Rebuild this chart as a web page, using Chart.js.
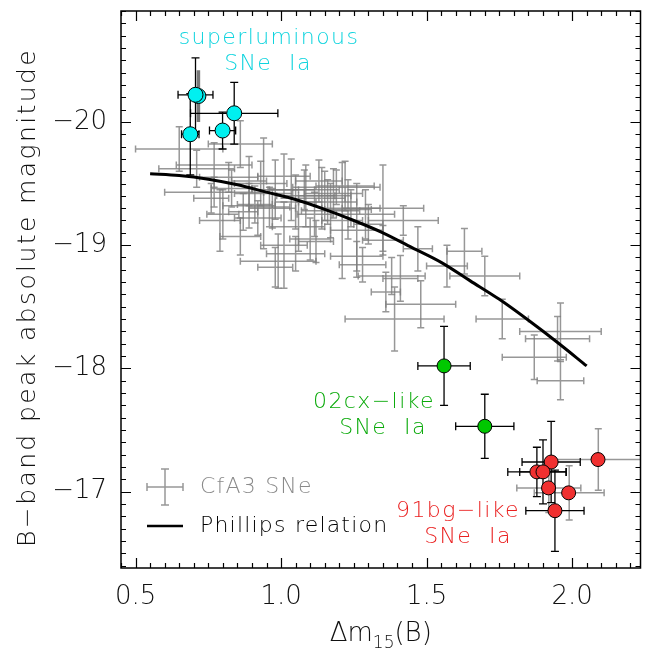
<!DOCTYPE html>
<html>
<head>
<meta charset="utf-8">
<script src="https://cdn.jsdelivr.net/npm/chart.js@4.4.1/dist/chart.umd.min.js"></script>
<style>
  html, body { margin: 0; padding: 0; background: #fff; }
  canvas { display: block; }
</style>
</head>
<body>
<canvas id="c" width="649" height="650"></canvas>
<script>
// axis ticks
const xTicks = [0.5, 1.0, 1.5, 2.0];
const yTicks = [-20, -19, -18, -17];

// CfA3 SNe (grey crosses, no marker)
const cfaX    = [0.65, 0.86, 0.71, 0.77, 0.77, 0.79, 0.83, 0.76, 0.80, 0.92, 0.86, 0.94, 0.89, 0.82, 1.01, 1.01, 1.21, 1.26, 0.99, 1.12, 1.05, 1.10, 0.97, 1.05, 1.08, 1.15, 1.17, 1.13, 1.19, 1.24, 1.35, 1.30, 1.35, 1.26, 1.28, 1.42, 1.22, 0.93, 1.47, 1.63, 1.57, 1.70, 1.38, 1.39, 1.48, 1.36, 1.41, 1.76, 1.96, 1.95, 1.87, 1.96, 2.09, 1.92, 1.99, 0.98, 1.06, 1.16,
                 0.87, 0.89, 0.91, 0.96, 0.98, 1.035, 1.085, 1.115, 1.14, 1.18, 1.23, 1.29];
const cfaY    = [-19.78, -19.82, -19.62, -19.65, -19.43, -19.20, -19.46, -19.38, -19.25, -19.22, -19.07, -19.42, -19.32, -19.55, -19.56, -19.00, -19.20, -19.12, -18.87, -19.03, -18.93, -19.05, -19.30, -19.35, -19.45, -19.40, -19.28, -19.52, -19.47, -19.30, -19.30, -19.17, -19.04, -18.91, -18.84, -19.20, -19.48, -19.50, -18.97, -18.95, -18.83, -18.75, -18.75, -18.40, -18.52, -18.62, -18.73, -18.40, -18.30, -18.24, -18.09, -17.90, -17.26, -17.03, -16.99, -18.82, -19.15, -19.35,
                 -19.27, -19.52, -19.33, -19.31, -19.45, -19.45, -19.40, -19.25, -19.38, -19.42, -19.29, -19.25];
const cfaXErr = [0.15, 0.11, 0.13, 0.13, 0.17, 0.07, 0.07, 0.06, 0.055, 0.08, 0.07, 0.10, 0.09, 0.10, 0.09, 0.08, 0.07, 0.09, 0.13, 0.06, 0.10, 0.07, 0.08, 0.07, 0.12, 0.09, 0.10, 0.08, 0.15, 0.10, 0.14, 0.05, 0.07, 0.09, 0.08, 0.12, 0.10, 0.09, 0.05, 0.06, 0.07, 0.12, 0.115, 0.17, 0.12, 0.05, 0.06, 0.09, 0.14, 0.11, 0.11, 0.08, 0.15, 0.11, 0.12, 0.06, 0.09, 0.10,
                 0.05, 0.06, 0.06, 0.07, 0.08, 0.08, 0.10, 0.06, 0.08, 0.10, 0.08, 0.10];
const cfaYErr = [0.18, 0.19, 0.15, 0.18, 0.12, 0.25, 0.15, 0.12, 0.20, 0.14, 0.15, 0.45, 0.18, 0.12, 0.18, 0.35, 0.47, 0.38, 0.22, 0.17, 0.14, 0.17, 0.16, 0.22, 0.16, 0.20, 0.22, 0.17, 0.14, 0.15, 0.35, 0.16, 0.12, 0.12, 0.14, 0.12, 0.20, 0.18, 0.18, 0.185, 0.17, 0.16, 0.15, 0.26, 0.19, 0.16, 0.185, 0.16, 0.23, 0.18, 0.18, 0.155, 0.25, 0.20, 0.22, 0.16, 0.20, 0.18,
                 0.15, 0.20, 0.15, 0.16, 0.24, 0.25, 0.25, 0.18, 0.25, 0.20, 0.24, 0.20];

// superluminous SNe Ia
const slX    = [0.716, 0.706, 0.688, 0.839, 0.799];
const slY    = [-20.21, -20.22, -19.90, -20.07, -19.93];
const slXErr = [0.03, 0.06, 0.03, 0.15, 0.045];
const slYErr = [0.21, 0.30, 0.33, 0.25, 0.15];

// 02cx-like SNe Ia
const cxX    = [1.56, 1.70];
const cxY    = [-18.02, -17.53];
const cxXErr = [0.09, 0.10];
const cxYErr = [0.32, 0.26];

// 91bg-like SNe Ia
const bgX    = [1.928, 1.879, 1.900, 2.089, 1.919, 1.988, 1.941];
const bgY    = [-17.24, -17.16, -17.16, -17.26, -17.03, -16.99, -16.845];
const bgXErr = [0.10, 0.10, 0.08, 0, 0, 0, 0.10];
const bgYErr = [0.33, 0.20, 0.26, 0, 0, 0, 0.33];

// Phillips relation
const phX = [0.55, 0.65, 0.75, 0.85, 0.95, 1.05, 1.15, 1.25, 1.35, 1.45, 1.55, 1.65, 1.75, 1.85, 1.95, 2.05];
const phY = [-19.58, -19.565, -19.535, -19.49, -19.43, -19.37, -19.29, -19.20, -19.10, -18.98, -18.86, -18.71, -18.56, -18.39, -18.21, -18.02];

const FONT = "'DejaVu Sans', sans-serif";
const GREY = 'rgba(125,125,125,0.8)';

function pts(xs, ys) {
  return xs.map((x, i) => ({ x: x, y: ys[i] }));
}

function drawErr(o, xs, ys, xe, ye, color, lw, cap, from) {
  const sx = o.chart.scales.x, sy = o.chart.scales.y;
  const c = o.ctx;
  c.strokeStyle = color;
  c.lineWidth = lw;
  for (let i = from || 0; i < xs.length; i++) {
    const px = sx.getPixelForValue(xs[i]);
    const py = sy.getPixelForValue(ys[i]);
    c.beginPath();
    if (xe[i] > 0) {
      const x1 = sx.getPixelForValue(xs[i] - xe[i]);
      const x2 = sx.getPixelForValue(xs[i] + xe[i]);
      c.moveTo(x1, py); c.lineTo(x2, py);
      c.moveTo(x1, py - cap); c.lineTo(x1, py + cap);
      c.moveTo(x2, py - cap); c.lineTo(x2, py + cap);
    }
    if (ye[i] > 0) {
      const y1 = sy.getPixelForValue(ys[i] - ye[i]);
      const y2 = sy.getPixelForValue(ys[i] + ye[i]);
      c.moveTo(px, y1); c.lineTo(px, y2);
      c.moveTo(px - cap, y1); c.lineTo(px + cap, y1);
      c.moveTo(px - cap, y2); c.lineTo(px + cap, y2);
    }
    c.stroke();
  }
}

const errorBars = {
  id: 'errorBars',
  beforeDatasetsDraw(chart) {
    const a = chart.chartArea, c = chart.ctx;
    const o = { chart: chart, ctx: c };
    const sx = chart.scales.x, sy = chart.scales.y;
    c.save();
    c.beginPath();
    c.rect(a.left, a.top, a.right - a.left, a.bottom - a.top);
    c.clip();
    drawErr(o, cfaX, cfaY, cfaXErr, cfaYErr, GREY, 1.5, 3.5);
    // first superluminous SN has its bar drawn thick grey
    const px0 = sx.getPixelForValue(slX[0]);
    c.strokeStyle = '#777';
    c.lineWidth = 3.5;
    c.beginPath();
    c.moveTo(px0, sy.getPixelForValue(slY[0] - slYErr[0]));
    c.lineTo(px0, sy.getPixelForValue(slY[0] + slYErr[0]));
    c.stroke();
    drawErr(o, slX, slY, slXErr, slYErr, '#000', 1.3, 4, 1);
    drawErr(o, cxX, cxY, cxXErr, cxYErr, '#000', 1.3, 4);
    drawErr(o, bgX, bgY, bgXErr, bgYErr, '#000', 1.3, 4);
    c.restore();
  }
};

function txt(c, s, x, y, size, color, spacing) {
  c.font = '300 ' + size + 'px ' + FONT;
  c.fillStyle = color;
  c.letterSpacing = (spacing || 0) + 'px';
  c.fillText(s, x, y);
  c.letterSpacing = '0px';
}

// frame, inward ticks, titles, labels, legend
const decor = {
  id: 'decor',
  afterDraw(chart) {
    const c = chart.ctx, a = chart.chartArea;
    const sx = chart.scales.x, sy = chart.scales.y;
    c.save();
    c.strokeStyle = '#000';
    c.lineWidth = 1.5;
    c.strokeRect(a.left, a.top, a.right - a.left, a.bottom - a.top);

    c.lineWidth = 1.2;
    c.beginPath();
    for (let i = 9; i / 20 <= sx.max + 1e-9; i++) {
      const px = Math.round(sx.getPixelForValue(i / 20)) + 0.5;
      const len = i % 10 === 0 ? 10 : 5;
      c.moveTo(px, a.bottom); c.lineTo(px, a.bottom - len);
      c.moveTo(px, a.top); c.lineTo(px, a.top + len);
    }
    for (let i = -209; i / 10 <= sy.max + 1e-9; i++) {
      const py = Math.round(sy.getPixelForValue(i / 10)) + 0.5;
      const len = i % 10 === 0 ? 10 : 5;
      c.moveTo(a.left, py); c.lineTo(a.left + len, py);
      c.moveTo(a.right, py); c.lineTo(a.right - len, py);
    }
    c.stroke();

    // x title with subscript
    c.textBaseline = 'alphabetic';
    c.textAlign = 'left';
    c.font = '300 26px ' + FONT;
    const w1 = c.measureText('\u0394m').width;
    const w3 = c.measureText('(B)').width;
    c.font = '300 17px ' + FONT;
    const w2 = c.measureText('15').width;
    let tx = (a.left + a.right) / 2 - (w1 + w2 + w3) / 2;
    txt(c, '\u0394m', tx, 641, 26, '#111', 0);
    txt(c, '15', tx + w1, 648, 17, '#111', 0);
    txt(c, '(B)', tx + w1 + w2, 641, 26, '#111', 0);

    // y title, rotated
    c.save();
    c.translate(28, (a.top + a.bottom) / 2 + 8);
    c.rotate(-Math.PI / 2);
    c.textAlign = 'center';
    c.textBaseline = 'middle';
    txt(c, 'B\u2212band peak absolute magnitude', 0, 0, 25, '#111', 2.4);
    c.restore();

    // group labels
    c.textAlign = 'center';
    c.textBaseline = 'middle';
    txt(c, 'superluminous', 269, 38, 22, '#0fd4de', 1.4);
    txt(c, 'SNe  Ia', 268, 64, 22, '#0fd4de', 1.4);
    txt(c, '02cx\u2212like', 374, 402, 22, '#0aaa0a', 1.4);
    txt(c, 'SNe  Ia', 383, 428, 22, '#0aaa0a', 1.4);
    txt(c, '91bg\u2212like', 458, 511, 22, '#ea2020', 1.4);
    txt(c, 'SNe  Ia', 468, 537, 22, '#ea2020', 1.4);

    // legend
    c.strokeStyle = GREY;
    c.lineWidth = 1.5;
    c.beginPath();
    c.moveTo(147, 487); c.lineTo(183, 487);
    c.moveTo(147, 483); c.lineTo(147, 491);
    c.moveTo(183, 483); c.lineTo(183, 491);
    c.moveTo(165, 469); c.lineTo(165, 505);
    c.moveTo(161, 469); c.lineTo(169, 469);
    c.moveTo(161, 505); c.lineTo(169, 505);
    c.stroke();
    c.strokeStyle = '#000';
    c.lineWidth = 2.5;
    c.beginPath();
    c.moveTo(147, 526); c.lineTo(183, 526);
    c.stroke();
    c.textAlign = 'left';
    txt(c, 'CfA3 SNe', 200, 487, 22, '#8a8a8a', 1.2);
    txt(c, 'Phillips relation', 200, 526, 22, '#000', 1.2);
    c.restore();
  }
};

const ctx = document.getElementById('c').getContext('2d');
new Chart(ctx, {
  type: 'scatter',
  data: {
    datasets: [
      {
        label: 'superluminous SNe Ia',
        data: pts(slX, slY),
        pointRadius: 7.5,
        backgroundColor: '#00f0f0',
        borderColor: '#000',
        borderWidth: 1
      },
      {
        label: '02cx-like SNe Ia',
        data: pts(cxX, cxY),
        pointRadius: 7,
        backgroundColor: '#00c800',
        borderColor: '#000',
        borderWidth: 1
      },
      {
        label: '91bg-like SNe Ia',
        data: pts(bgX, bgY),
        pointRadius: 7,
        backgroundColor: '#f03030',
        borderColor: '#000',
        borderWidth: 1
      },
      {
        label: 'Phillips relation',
        type: 'line',
        data: pts(phX, phY),
        borderColor: '#000',
        borderWidth: 3,
        pointRadius: 0,
        fill: false,
        cubicInterpolationMode: 'monotone'
      },
      {
        label: 'CfA3 SNe',
        data: pts(cfaX, cfaY),
        pointRadius: 0
      }
    ]
  },
  options: {
    responsive: false,
    devicePixelRatio: 1,
    animation: false,
    layout: { padding: { top: 11, right: 4, left: 0, bottom: 0 } },
    plugins: { legend: { display: false }, tooltip: { enabled: false } },
    scales: {
      x: {
        type: 'linear',
        min: 0.45,
        max: 2.235,
        afterFit: s => { s.height = 82; s.paddingLeft = 0; s.paddingRight = 0; },
        afterBuildTicks: s => { s.ticks = xTicks.map(v => ({ value: v })); },
        grid: { display: false, drawTicks: false },
        border: { display: false },
        ticks: {
          callback: v => v.toFixed(1),
          font: { family: FONT, size: 26, weight: 300 },
          color: '#111',
          padding: 14,
          maxRotation: 0,
          autoSkip: false
        }
      },
      y: {
        type: 'linear',
        reverse: true,
        min: -20.9,
        max: -16.38,
        afterFit: s => { s.width = 121; s.paddingTop = 0; s.paddingBottom = 0; },
        afterBuildTicks: s => { s.ticks = yTicks.map(v => ({ value: v })); },
        grid: { display: false, drawTicks: false },
        border: { display: false },
        ticks: {
          callback: v => '\u2212' + Math.abs(v),
          font: { family: FONT, size: 26, weight: 300 },
          color: '#111',
          padding: 14,
          autoSkip: false
        }
      }
    }
  },
  plugins: [errorBars, decor]
});
</script>
</body>
</html>
